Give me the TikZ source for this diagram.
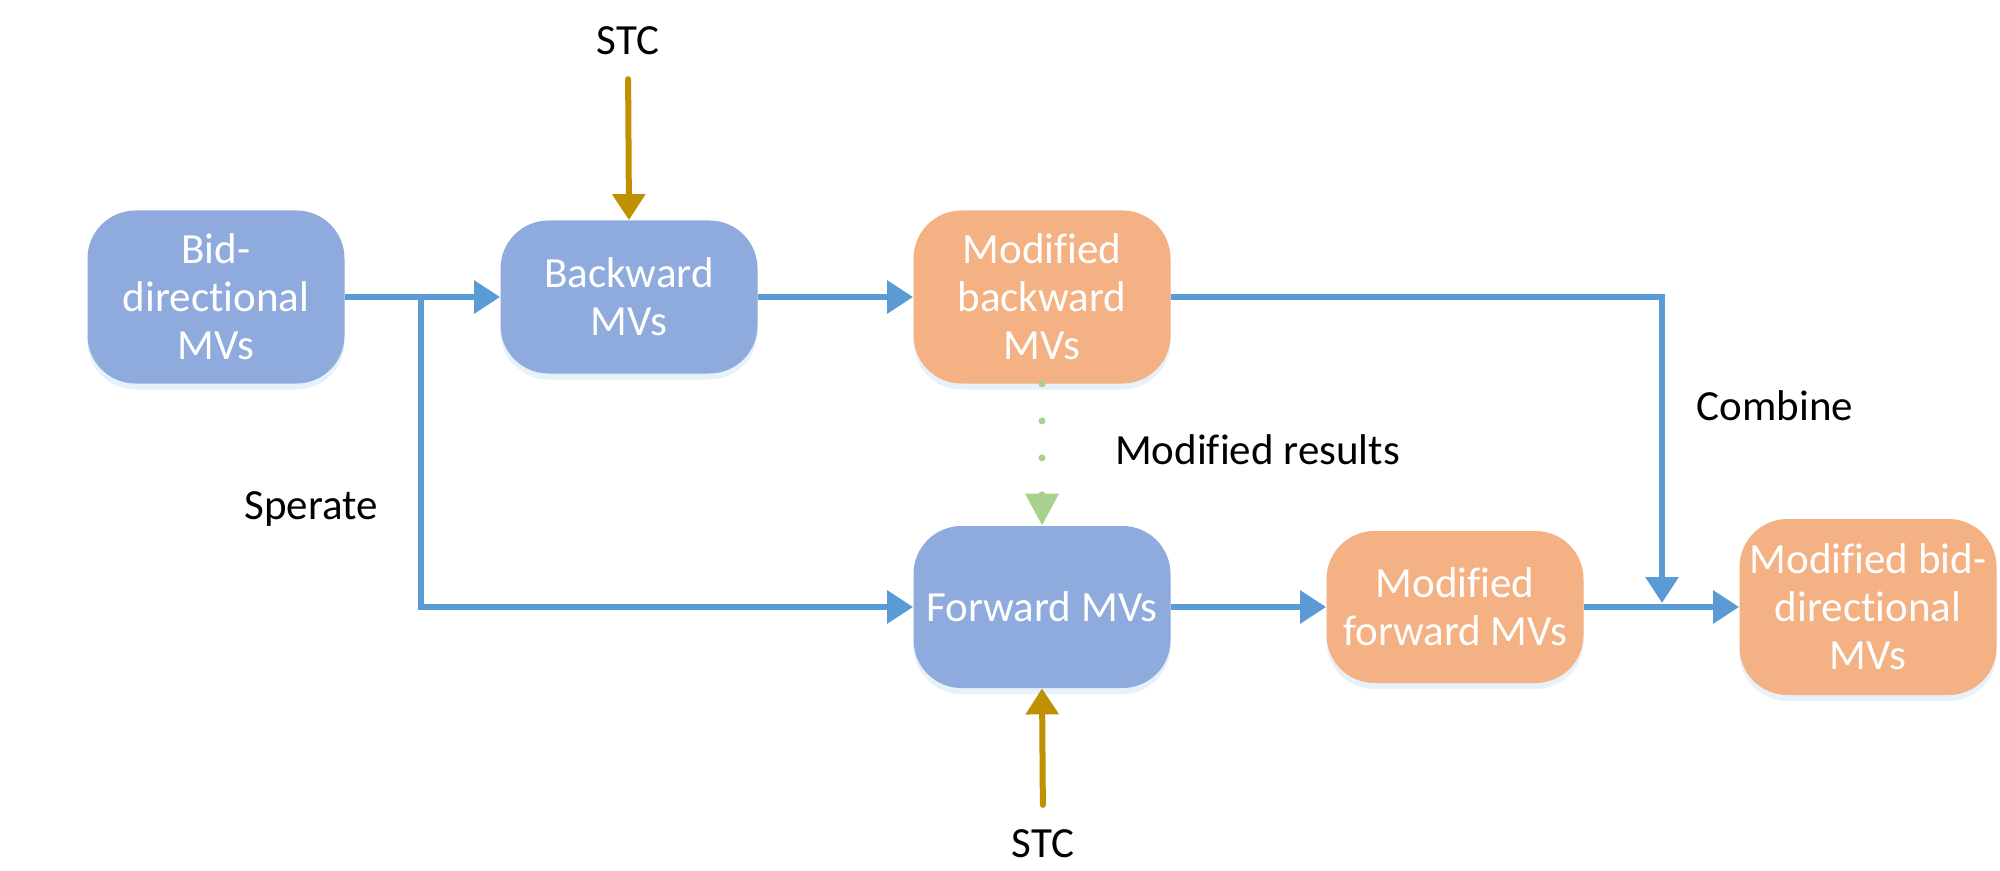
\documentclass[tikz,border=0pt]{standalone}
\usepackage{fontspec}
\setmainfont{Carlito}[Ligatures=NoCommon]
\usetikzlibrary{positioning,arrows.meta,shadows}
\definecolor{boxblue}{HTML}{8FAADC}
\definecolor{boxorange}{HTML}{F4B183}
\definecolor{lineblue}{HTML}{5B9BD5}
\definecolor{stcgold}{HTML}{BF9000}
\definecolor{dotgreen}{HTML}{A9D18E}
\definecolor{shadowblue}{HTML}{DDEBF7}
\tikzstyle{block} = [rectangle, rounded corners=24pt, minimum width=128.5pt, align=center, text=white, inner sep=2pt, font=\fontsize{21.5}{24}\selectfont, drop shadow={fill=shadowblue, opacity=0.7, shadow xshift=0pt, shadow yshift=-3pt}]
\tikzstyle{mvblock} = [block, fill=boxblue]
\tikzstyle{modblock} = [block, fill=boxorange]
\tikzstyle{note} = [font=\fontsize{21.5}{24}\selectfont, text=black]
\tikzstyle{edge} = [draw, line width=3pt, lineblue, -{Triangle[length=13pt,width=16pt]}]
\tikzstyle{stcedge} = [draw, line width=3pt, stcgold, line cap=round, -{Triangle[length=13pt,width=16pt]}]
\tikzstyle{resultedge} = [draw, line width=3.5pt, dotgreen, line cap=round, dash pattern=on 0pt off 18.5pt, -{Triangle[length=16pt,width=16pt]}]

\begin{document}
\begin{tikzpicture}[x=0.5pt, y=-0.5pt, node distance=206.5pt, on grid]
   \useasboundingbox (0,0) rectangle (2000,871);

   \node[mvblock, minimum height=86.5pt] (bidir) at (216,297) {Bid-\\directional\\MVs};
   \node[mvblock, minimum height=76.5pt] (backward) [right=of bidir] {Backward\\MVs};
   \node[modblock, minimum height=86.5pt] (modback) [right=of backward] {Modified\\backward\\MVs};
   \node[mvblock, minimum height=81pt] (forward) [below=155pt of modback] {Forward MVs};
   \node[modblock, minimum height=76pt] (modfwd) [right=of forward] {Modified\\forward MVs};
   \node[modblock, minimum height=88pt] (modbid) [right=of modfwd] {Modified bid-\\directional\\MVs};

   \node[note] (stctop) at (628,41) {STC};
   \node[note] (stcbot) at (1043,844) {STC};
   \node[note] (sperate) at (311,509) {Sperate};
   \node[note] (combine) at (1775,406) {Combine};
   \node[note, anchor=west] (results) at (1108,450) {Modified results};

   \coordinate (split) at (421,297);
   \coordinate (join) at (1662,603);

   \path[edge] (bidir) -- (backward);
   \path[edge] (split) |- (forward);
   \path[edge] (backward) -- (modback);
   \path[edge] (forward) -- (modfwd);
   \path[edge] (modfwd) -- (modbid);
   \path[edge] (modback) -| (join);
   \path[stcedge, shorten <=8.5pt] (stctop.south) -- (backward.north);
   \path[stcedge, shorten <=9pt] (stcbot.north) -- (forward.south);
   \path[resultedge] (modback.south) -- (forward.north);
\end{tikzpicture}
\end{document}
